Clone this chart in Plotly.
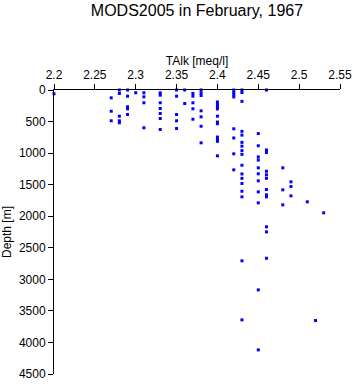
import plotly.graph_objects as go

talk = [
    2.20, 2.27, 2.28, 2.28, 2.29, 2.29, 2.30, 2.31, 2.31, 2.33, 2.33, 2.35, 2.36, 2.35, 2.37, 2.37,
    2.27, 2.27, 2.28, 2.28, 2.28, 2.29, 2.29, 2.29, 2.31, 2.31,
    2.33, 2.33, 2.33, 2.33, 2.33, 2.35, 2.35, 2.35, 2.36, 2.37, 2.37, 2.37,
    2.38, 2.38, 2.38, 2.38, 2.38, 2.38, 2.38,
    2.40, 2.40, 2.40, 2.40, 2.40, 2.40, 2.40, 2.40, 2.40, 2.40, 2.40,
    2.42, 2.42, 2.42, 2.42, 2.43, 2.43, 2.43, 2.46,
    2.42, 2.43, 2.43, 2.42, 2.43, 2.43, 2.42, 2.43, 2.43, 2.43, 2.42, 2.43, 2.43,
    2.45, 2.45, 2.45, 2.45, 2.45, 2.45,
    2.46, 2.46, 2.46, 2.46, 2.46, 2.48,
    2.43, 2.43, 2.43, 2.45, 2.45, 2.45, 2.46, 2.46, 2.46, 2.46, 2.46, 2.46,
    2.43, 2.48, 2.48, 2.49, 2.49, 2.49, 2.51, 2.53,
    2.45, 2.43, 2.52, 2.45,
]
depth = [
    60, 124, 0, 55, 0, 98, 44, 44, 108, 44, 82, 0, 0, 98, 55, 98,
    336, 488, 415, 488, 520, 266, 298, 388, 203, 599,
    203, 293, 372, 452, 626, 388, 488, 610, 214, 203, 298, 463,
    0, 44, 87, 330, 425, 574, 837,
    190, 230, 270, 300, 415, 507, 534, 745, 780, 813, 1043,
    0, 40, 70, 110, 0, 40, 180, 0,
    615, 655, 715, 760, 830, 890, 1011, 960, 1020, 1192, 1265, 1330, 1400,
    690, 884, 1060, 1110, 1233, 1328,
    950, 990, 1287, 1344, 1400, 1233,
    1482, 1604, 1693, 1439, 1614, 1788, 1577, 1661, 1693, 2168, 2248, 2666,
    2707, 1582, 1820, 1455, 1530, 1677, 1772, 1946,
    3167, 3642, 3653, 4118,
]

x_ticks = [2.2, 2.25, 2.3, 2.35, 2.4, 2.45, 2.5, 2.55]
x_labels = ["2.2", "2.25", "2.3", "2.35", "2.4", "2.45", "2.5", "2.55"]
y_ticks = [0, 500, 1000, 1500, 2000, 2500, 3000, 3500, 4000, 4500]

fig = go.Figure(go.Scatter(
    x=talk, y=depth, mode="markers",
    marker=dict(symbol="square", size=3, color="#0000ff", line=dict(width=0)),
    cliponaxis=False,
))

fig.update_layout(
    width=353, height=384,
    margin=dict(l=54, r=13, t=90, b=10),
    paper_bgcolor="white", plot_bgcolor="white",
    font=dict(family="Liberation Sans, Arial, sans-serif", size=12, color="black"),
    showlegend=False,
    title=dict(text="MODS2005 in February, 1967", x=0.558, xanchor="center",
               y=0.974, yanchor="middle", font=dict(size=16)),
    xaxis=dict(
        side="top", range=[2.2, 2.55], tickvals=x_ticks, ticktext=x_labels,
        showgrid=False, zeroline=False, showline=True, linecolor="black", linewidth=1,
        ticks="outside", ticklen=5, tickcolor="black", automargin=False,
        title=dict(text="TAlk [meq/l]", standoff=0, font=dict(size=12)),
    ),
    yaxis=dict(
        range=[4500, 0], tickvals=y_ticks, automargin=False,
        showgrid=False, zeroline=False, showline=True, linecolor="black", linewidth=1,
        ticks="outside", ticklen=5, tickcolor="black",
        title=dict(text="Depth [m]", standoff=6, font=dict(size=12)),
    ),
)

fig.write_html("out.html")
